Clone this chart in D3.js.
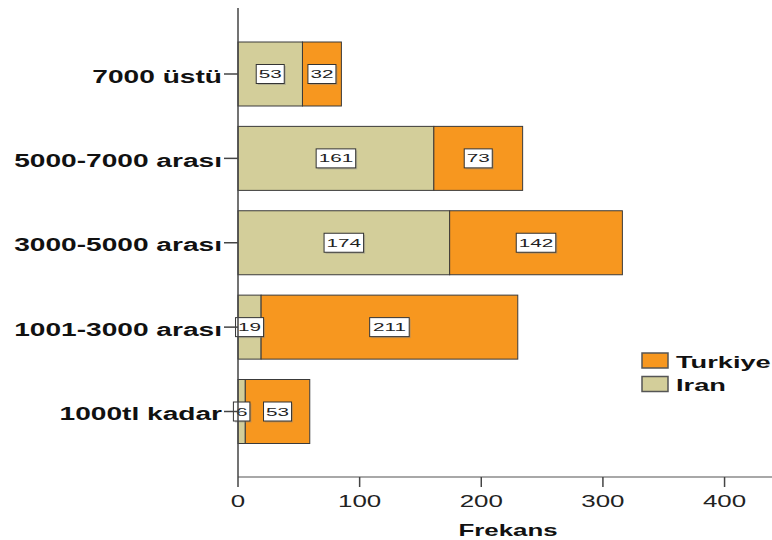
<!DOCTYPE html>
<html><head><meta charset="utf-8">
<script src="https://cdn.jsdelivr.net/npm/d3@7"></script>
<style>
html,body{margin:0;padding:0;background:#fff;}
svg{display:block;font-family:"Liberation Sans",Arial,sans-serif;}
</style></head>
<body>
<svg id="chart" width="772" height="540"></svg>
<script>
const categories = ["7000 üstü", "5000-7000 arası", "3000-5000 arası", "1001-3000 arası", "1000tl kadar"];
const iranValues = [53, 161, 174, 19, 6];
const turkiyeValues = [32, 73, 142, 211, 53];
const seriesNames = ["Turkiye", "Iran"];
const xTicks = [0, 100, 200, 300, 400];
const xTitle = "Frekans";

const colors = {Iran: "#d3ce9a", Turkiye: "#f7971f"};

const svg = d3.select("#chart");
const x = d3.scaleLinear().domain([0, 439]).range([238, 772]);
const y = d3.scalePoint().domain(categories).range([74, 411.5]);
const barH = 64;
const axisY = 477;

function stext(g, str, px, py, sx, opts) {
  return g.append("text")
    .attr("transform", `translate(${px},${py}) scale(${sx},1)`)
    .attr("text-anchor", opts.anchor || "start")
    .attr("font-size", opts.size)
    .attr("font-weight", opts.weight || "normal")
    .attr("fill", opts.fill || "#111")
    .text(str);
}

// bars
const rows = categories.map((c, i) => ({cat: c, iran: iranValues[i], tur: turkiyeValues[i]}));
const gBars = svg.append("g");
rows.forEach(d => {
  const cy = y(d.cat);
  gBars.append("rect")
    .attr("x", x(0)).attr("y", cy - barH / 2)
    .attr("width", x(d.iran) - x(0)).attr("height", barH)
    .attr("fill", colors.Iran).attr("stroke", "#3a3a3a").attr("stroke-width", 1);
  gBars.append("rect")
    .attr("x", x(d.iran)).attr("y", cy - barH / 2)
    .attr("width", x(d.iran + d.tur) - x(d.iran)).attr("height", barH)
    .attr("fill", colors.Turkiye).attr("stroke", "#3a3a3a").attr("stroke-width", 1);
});

// value labels
const gLab = svg.append("g");
function valueBox(v, cx, cy) {
  const sx = 1.8, fs = 11.5;
  const txt = String(v);
  const tw = txt.length * 0.556 * fs * sx;
  const bw = tw + 5, bh = 19;
  gLab.append("rect")
    .attr("x", cx - bw / 2 + 1.5).attr("y", cy - bh / 2 + 1.5)
    .attr("width", bw).attr("height", bh)
    .attr("fill", "#888").attr("opacity", 0.45);
  gLab.append("rect")
    .attr("x", cx - bw / 2).attr("y", cy - bh / 2)
    .attr("width", bw).attr("height", bh)
    .attr("fill", "#fff").attr("stroke", "#333").attr("stroke-width", 1);
  stext(gLab, txt, cx, cy + 4, sx, {anchor: "middle", size: fs, fill: "#222"});
}
rows.forEach(d => {
  const cy = y(d.cat);
  valueBox(d.iran, (x(0) + x(d.iran)) / 2, cy);
  valueBox(d.tur, (x(d.iran) + x(d.iran + d.tur)) / 2, cy);
});

// bottom axis
const gAx = svg.append("g");
gAx.append("line").attr("x1", x(0)).attr("x2", 772).attr("y1", axisY).attr("y2", axisY)
  .attr("stroke", "#a8a8a8").attr("stroke-width", 2);
xTicks.forEach(t => {
  gAx.append("line").attr("x1", x(t)).attr("x2", x(t)).attr("y1", axisY).attr("y2", axisY + 10)
    .attr("stroke", "#444").attr("stroke-width", 1.5);
  stext(gAx, d3.format("d")(t), x(t), 507, 1.62, {anchor: "middle", size: 16, fill: "#222"});
});
stext(gAx, xTitle, 508, 536, 1.52, {anchor: "middle", size: 17, weight: "bold"});

// left axis
const gLeft = svg.append("g");
gLeft.append("line").attr("x1", 238).attr("x2", 238).attr("y1", 8).attr("y2", axisY)
  .attr("stroke", "#444").attr("stroke-width", 1.5);
categories.forEach(c => {
  gLeft.append("line").attr("x1", 224).attr("x2", 238).attr("y1", y(c)).attr("y2", y(c))
    .attr("stroke", "#444").attr("stroke-width", 1.5);
  stext(gLeft, c, 222, y(c) + 8.5, 1.48, {anchor: "end", size: 19, weight: "bold"});
});

// legend
const gLeg = svg.append("g");
seriesNames.forEach((s, i) => {
  const ly = 353 + i * 23.5;
  gLeg.append("rect").attr("x", 642).attr("y", ly).attr("width", 26).attr("height", 15)
    .attr("fill", colors[s]).attr("stroke", "#555").attr("stroke-width", 1.5);
  stext(gLeg, s, 676, ly + 14.5, 1.6, {size: 17, weight: "bold"});
});
</script>
</body></html>
